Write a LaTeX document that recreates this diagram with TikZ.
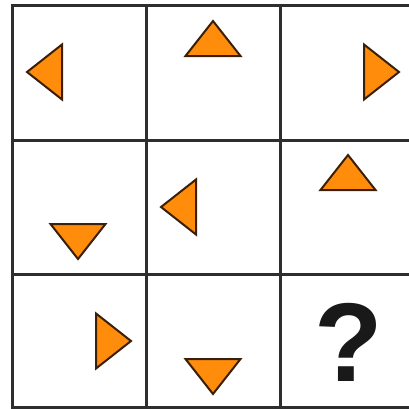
\documentclass[tikz,border=0pt]{standalone}
\usepackage{fontspec}
\setsansfont{Liberation Sans}
\usepackage{xcolor}
\definecolor{tribody}{HTML}{FF8C0A}
\definecolor{triedge}{HTML}{3A200A}
\definecolor{gridline}{HTML}{2E2E2E}
\begin{document}
\begin{tikzpicture}[
  x=1pt, y=1pt,
  grid/.style={draw=gridline, line width=3pt},
  tri/.style={fill=tribody, draw=triedge, line width=2pt, line join=miter},
]
\useasboundingbox[fill=white] (0,0) rectangle (409,408);

% 3x3 puzzle grid, cut off on the right edge.
\foreach \y in {402, 268, 134, 1} {
  \draw[grid] (12,\y) -- (420,\y);
}
\foreach \x in {12, 146, 280} {
  \draw[grid] (\x,-5) -- (\x,403.5);
}

% Triangles: base centre, direction they point.
\foreach \x/\y/\a in {62/336/180, 213/352/90, 364/336/0,
                      78/184/270, 196/201/180, 348/218/90,
                      96/67/0, 213/49/270} {
  \draw[tri, shift={(\x,\y)}, rotate=\a] (0,-27.5) -- (35,0) -- (0,27.5) -- cycle;
}

% Missing cell.
\node[inner sep=0pt, font=\sffamily\bfseries\fontsize{112}{112}\selectfont, text=black!90] (qmark) at (349,66) {?};
\end{tikzpicture}
\end{document}
